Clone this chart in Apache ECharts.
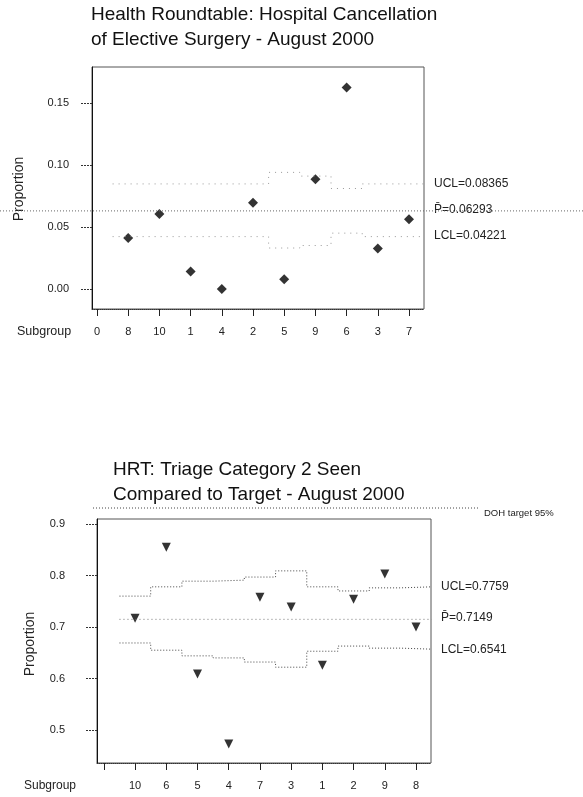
<!DOCTYPE html>
<html>
<head>
<meta charset="utf-8">
<script src="https://cdn.jsdelivr.net/npm/echarts@6/dist/echarts.min.js"></script>
<style>
html, body { margin: 0; padding: 0; background: #fff; }
#chart { width: 583px; height: 797px; }
</style>
</head>
<body>
<div id="chart"></div>
<script>
// 上圖: 取消手術比例
var topSubgroups = ["0", "8", "10", "1", "4", "2", "5", "9", "6", "3", "7"];
var topProportion = [null, 0.041, 0.0605, 0.014, 0.0, 0.0696, 0.0078, 0.0885, 0.1624, 0.0325, 0.0562];
var topUCL = [null, 0.0847, 0.0847, 0.0847, 0.0847, 0.0847, 0.094, 0.091, 0.081, 0.0847, 0.0847];
var topLCL = [null, 0.0422, 0.0422, 0.0422, 0.0422, 0.0422, 0.033, 0.035, 0.045, 0.0422, 0.0422];
var topCenter = 0.06293;
var topTicks = [0, 0.05, 0.1, 0.15];

// 下圖: 分級 2 看診比例
var botSubgroups = ["", "10", "6", "5", "4", "7", "3", "1", "2", "9", "8"];
var botProportion = [null, 0.717, 0.855, 0.609, 0.473, 0.758, 0.739, 0.626, 0.754, 0.803, 0.7];
var botUCL = [null, 0.76, 0.778, 0.789, 0.791, 0.797, 0.809, 0.778, 0.77, 0.776, 0.778];
var botLCL = [null, 0.669, 0.655, 0.644, 0.64, 0.632, 0.622, 0.653, 0.663, 0.659, 0.657];
var botCenter = 0.7149;
var dohTarget = 0.95;
var botTicks = [0.5, 0.6, 0.7, 0.8, 0.9];
var xIndex = [0, 1, 2, 3, 4, 5, 6, 7, 8, 9, 10];

function points(vals) {
	var out = [];
	vals.forEach(function (v, i) {
		if (v != null) out.push([i, v]);
	});
	return out;
}
// 階梯線
function steps(vals) {
	var out = [];
	vals.forEach(function (v, i) {
		if (v != null) {
			out.push([i - 0.5, v]);
			out.push([i + 0.5, v]);
		}
	});
	return out;
}

var font = "Liberation Sans";
var labelStyle = { fontFamily: font, fontSize: 11, color: "#222" };

function mainX(gridIndex, min, max, names) {
	return {
		type: "value",
		gridIndex: gridIndex,
		min: min,
		max: max,
		splitLine: { show: false },
		axisLine: { show: true, onZero: false, lineStyle: { color: "#333", type: [1, 1] } },
		axisTick: { show: true, customValues: xIndex, length: 7, lineStyle: { color: "#222" } },
		axisLabel: Object.assign({
			customValues: xIndex,
			margin: 17,
			formatter: function (v) { return names[Math.round(v)]; }
		}, labelStyle)
	};
}
function mainY(gridIndex, min, max, ticks, digits, margin) {
	return {
		type: "value",
		gridIndex: gridIndex,
		min: min,
		max: max,
		splitLine: { show: false },
		axisLine: { show: true, onZero: false, lineStyle: { color: "#111" } },
		axisTick: { show: true, customValues: ticks, length: 12, lineStyle: { color: "#333", type: [2, 1] } },
		axisLabel: Object.assign({
			customValues: ticks,
			margin: margin,
			formatter: function (v) { return v.toFixed(digits); }
		}, labelStyle)
	};
}
function hiddenAxis(type, gridIndex, min, max) {
	return { type: type, gridIndex: gridIndex, min: min, max: max, show: false, splitLine: { show: false } };
}

var myChart = echarts.init(document.getElementById("chart"), null, { renderer: "canvas" });
var option = {
	animation: false,
	backgroundColor: "#fff",
	grid: [
		{ left: 92, top: 67, width: 332, height: 242, show: true, borderColor: "#555", borderWidth: 1 },
		{ left: 0, right: 0, top: 67, height: 242 },
		{ left: 97, top: 519, width: 334, height: 244, show: true, borderColor: "#555", borderWidth: 1 },
		{ left: 93, right: 103, top: 508, bottom: 34 }
	],
	xAxis: [
		mainX(0, -0.16, 10.48, topSubgroups),
		hiddenAxis("value", 1, 0, 1),
		mainX(2, -0.22, 10.48, botSubgroups),
		hiddenAxis("value", 3, 0, 1)
	],
	yAxis: [
		mainY(0, -0.0162, 0.179, topTicks, 2, 23),
		hiddenAxis("value", 1, -0.0162, 0.179),
		mainY(2, 0.436, 0.9097, botTicks, 1, 32),
		hiddenAxis("value", 3, 0.436, dohTarget)
	],
	series: [
		{
			type: "line", xAxisIndex: 0, yAxisIndex: 0, data: steps(topUCL),
			symbol: "none", lineStyle: { color: "#999", width: 1, type: [1, 5] }
		},
		{
			type: "line", xAxisIndex: 0, yAxisIndex: 0, data: steps(topLCL),
			symbol: "none", lineStyle: { color: "#999", width: 1, type: [1, 5] }
		},
		{
			type: "line", xAxisIndex: 1, yAxisIndex: 1, data: [[0, topCenter], [1, topCenter]],
			symbol: "none", lineStyle: { color: "#666", width: 1, type: [1, 2] }
		},
		{
			type: "scatter", xAxisIndex: 0, yAxisIndex: 0, data: points(topProportion),
			symbol: "diamond", symbolSize: 10, itemStyle: { color: "#000" }
		},
		{
			type: "line", xAxisIndex: 2, yAxisIndex: 2, data: steps(botUCL),
			symbol: "none", lineStyle: { color: "#444", width: 1, type: [1, 2] }
		},
		{
			type: "line", xAxisIndex: 2, yAxisIndex: 2, data: steps(botLCL),
			symbol: "none", lineStyle: { color: "#444", width: 1, type: [1, 2] }
		},
		{
			type: "line", xAxisIndex: 2, yAxisIndex: 2, data: [[0.5, botCenter], [10.5, botCenter]],
			symbol: "none", lineStyle: { color: "#777", width: 1, type: [1, 3] }
		},
		{
			type: "line", xAxisIndex: 3, yAxisIndex: 3, data: [[0, dohTarget], [1, dohTarget]],
			symbol: "none", clip: false, lineStyle: { color: "#444", width: 1, type: [1, 2] }
		},
		{
			type: "scatter", xAxisIndex: 2, yAxisIndex: 2, data: points(botProportion),
			symbol: "triangle", symbolRotate: 180, symbolSize: 9, itemStyle: { color: "#000" }
		}
	],
	graphic: [
		{ type: "text", x: 91, y: 15, style: { text: "Health Roundtable: Hospital Cancellation", font: "19px " + font, fill: "#111", verticalAlign: "middle" } },
		{ type: "text", x: 91, y: 40, style: { text: "of Elective Surgery - August 2000", font: "19px " + font, fill: "#111", verticalAlign: "middle" } },
		{ type: "text", x: 113, y: 470, style: { text: "HRT: Triage Category 2 Seen", font: "19px " + font, fill: "#111", verticalAlign: "middle" } },
		{ type: "text", x: 113, y: 495, style: { text: "Compared to Target - August 2000", font: "19px " + font, fill: "#111", verticalAlign: "middle" } },
		{ type: "text", x: 434, y: 184, style: { text: "UCL=0.08365", font: "12px " + font, fill: "#222", verticalAlign: "middle" } },
		{ type: "text", x: 434, y: 210, style: { text: "P\u0304=0.06293", font: "12px " + font, fill: "#222", verticalAlign: "middle" } },
		{ type: "text", x: 434, y: 236, style: { text: "LCL=0.04221", font: "12px " + font, fill: "#222", verticalAlign: "middle" } },
		{ type: "text", x: 441, y: 587, style: { text: "UCL=0.7759", font: "12px " + font, fill: "#222", verticalAlign: "middle" } },
		{ type: "text", x: 441, y: 618, style: { text: "P\u0304=0.7149", font: "12px " + font, fill: "#222", verticalAlign: "middle" } },
		{ type: "text", x: 441, y: 650, style: { text: "LCL=0.6541", font: "12px " + font, fill: "#222", verticalAlign: "middle" } },
		{ type: "text", x: 484, y: 513, style: { text: "DOH target 95%", font: "9.5px " + font, fill: "#222", verticalAlign: "middle" } },
		{ type: "text", x: 17, y: 332, style: { text: "Subgroup", font: "12.5px " + font, fill: "#222", verticalAlign: "middle" } },
		{ type: "text", x: 24, y: 786, style: { text: "Subgroup", font: "12px " + font, fill: "#222", verticalAlign: "middle" } },
		{ type: "text", x: 19, y: 189, rotation: Math.PI / 2, style: { text: "Proportion", font: "14px " + font, fill: "#222", align: "center", verticalAlign: "middle" } },
		{ type: "text", x: 30, y: 644, rotation: Math.PI / 2, style: { text: "Proportion", font: "14px " + font, fill: "#222", align: "center", verticalAlign: "middle" } }
	]
};
myChart.setOption(option);
</script>
</body>
</html>
